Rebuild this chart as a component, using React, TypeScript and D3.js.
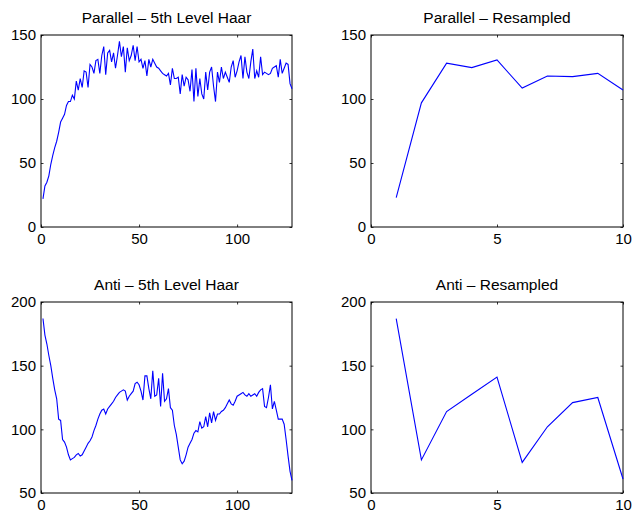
import React, { useEffect, useRef } from "react";
import * as d3 from "d3";

// 5th level Haar approximation, 128 samples each
const parallelHaar = [
  22, 32, 35, 40, 49, 56, 62, 67, 74, 82, 85, 88, 95, 98, 98, 103, 100, 114, 107, 116,
  109, 122, 121, 109, 127, 125, 120, 130, 131, 120, 134, 141, 119, 136, 138, 129, 136, 124, 134, 145,
  133, 141, 121, 140, 130, 134, 142, 130, 141, 129, 131, 124, 130, 118, 131, 125, 131, 128, 125, 124,
  122, 120, 119, 118, 120, 111, 124, 116, 116, 117, 104, 119, 110, 117, 115, 106, 123, 98, 124, 102,
  116, 104, 100, 121, 107, 121, 125, 110, 98, 121, 113, 125, 116, 121, 117, 113, 125, 130, 117, 122,
  129, 134, 116, 133, 121, 116, 129, 139, 116, 122, 117, 133, 119, 121, 120, 119, 120, 124, 125, 126,
  117, 131, 120, 124, 128, 127, 112, 108,
];

const antiHaar = [
  187, 174, 167, 158, 150, 140, 131, 124, 108, 107, 92, 90, 86, 80, 76, 77, 78, 80, 81, 79,
  80, 83, 86, 89, 91, 94, 99, 103, 108, 112, 115, 116, 112, 116, 118, 120, 122, 125, 127, 129,
  130, 131, 130, 123, 126, 128, 130, 136, 137, 135, 130, 123, 142, 142, 132, 124, 146, 126, 127, 140,
  118, 144, 122, 124, 132, 117, 115, 103, 96, 86, 76, 73, 75, 80, 86, 89, 92, 97, 99, 98,
  106, 101, 102, 110, 102, 113, 105, 114, 107, 112, 112, 114, 115, 117, 120, 123, 120, 119, 122, 126,
  127, 128, 129, 127, 126, 128, 126, 127, 128, 126, 129, 131, 132, 118, 117, 125, 135, 116, 122, 115,
  108, 108, 108, 104, 92, 79, 67, 60,
];

// resampled, 10 points
const parallelResampled = [23, 97, 128, 124.5, 130.5, 108.5, 118, 117.5, 120, 107];
const antiResampled = [187, 76, 114, 127.5, 141, 74, 102, 121, 125, 61];

const titles = [
  "Parallel \u2013 5th Level Haar",
  "Parallel \u2013 Resampled",
  "Anti \u2013 5th Level Haar",
  "Anti \u2013 Resampled",
];

const FONT = "Liberation Sans, Arial, Helvetica, sans-serif";

export default function App() {
  const ref = useRef<SVGSVGElement>(null);

  useEffect(() => {
    const svg = d3.select(ref.current);
    svg.selectAll("*").remove();

    const panels = [
      { title: titles[0], data: parallelHaar, x: [0, 128], y: [0, 150], xt: [0, 50, 100], yt: [0, 50, 100, 150], box: [41, 292, 35, 227] },
      { title: titles[1], data: parallelResampled, x: [0, 10], y: [0, 150], xt: [0, 5, 10], yt: [0, 50, 100, 150], box: [371, 623, 35, 227] },
      { title: titles[2], data: antiHaar, x: [0, 128], y: [50, 200], xt: [0, 50, 100], yt: [50, 100, 150, 200], box: [41, 292, 302, 493] },
      { title: titles[3], data: antiResampled, x: [0, 10], y: [50, 200], xt: [0, 5, 10], yt: [50, 100, 150, 200], box: [371, 623, 302, 493] },
    ];

    panels.forEach((p) => {
      const [x0, x1, y0, y1] = p.box;
      const xScale = d3.scaleLinear().domain(p.x).range([x0, x1]);
      const yScale = d3.scaleLinear().domain(p.y).range([y1, y0]);
      const g = svg.append("g");

      const styleAxis = (sel: any) => {
        sel.attr("font-family", FONT).attr("font-size", 15);
        sel.select(".domain").remove();
        sel.selectAll(".tick line").attr("stroke", "#000").attr("stroke-width", 0.8);
        sel.selectAll(".tick text").attr("fill", "#000");
      };

      g.append("g")
        .attr("transform", `translate(0,${y1})`)
        .call(d3.axisBottom(xScale).tickValues(p.xt).tickSize(-2.5).tickPadding(6))
        .call(styleAxis);
      g.append("g")
        .attr("transform", `translate(0,${y0})`)
        .call(d3.axisTop(xScale).tickValues(p.xt).tickSize(-2.5).tickFormat(() => ""))
        .call(styleAxis);
      g.append("g")
        .attr("transform", `translate(${x0},0)`)
        .call(d3.axisLeft(yScale).tickValues(p.yt).tickSize(-2.5).tickPadding(5))
        .call(styleAxis);
      g.append("g")
        .attr("transform", `translate(${x1},0)`)
        .call(d3.axisRight(yScale).tickValues(p.yt).tickSize(-2.5).tickFormat(() => ""))
        .call(styleAxis);

      g.append("rect")
        .attr("x", x0)
        .attr("y", y0)
        .attr("width", x1 - x0)
        .attr("height", y1 - y0)
        .attr("fill", "none")
        .attr("stroke", "#000")
        .attr("stroke-width", 1);

      const line = d3
        .line<number>()
        .x((d, i) => xScale(i + 1))
        .y((d) => yScale(d));

      g.append("path")
        .datum(p.data)
        .attr("d", line)
        .attr("fill", "none")
        .attr("stroke", "#0000ff")
        .attr("stroke-width", 1.1);

      g.append("text")
        .attr("x", (x0 + x1) / 2)
        .attr("y", y0 - 12)
        .attr("text-anchor", "middle")
        .attr("font-family", FONT)
        .attr("font-size", 15.5)
        .attr("fill", "#000")
        .text(p.title);
    });
  }, []);

  return (
    <svg
      ref={ref}
      width={634}
      height={514}
      style={{ position: "absolute", left: 0, top: 0, background: "#fff" }}
    ></svg>
  );
}
